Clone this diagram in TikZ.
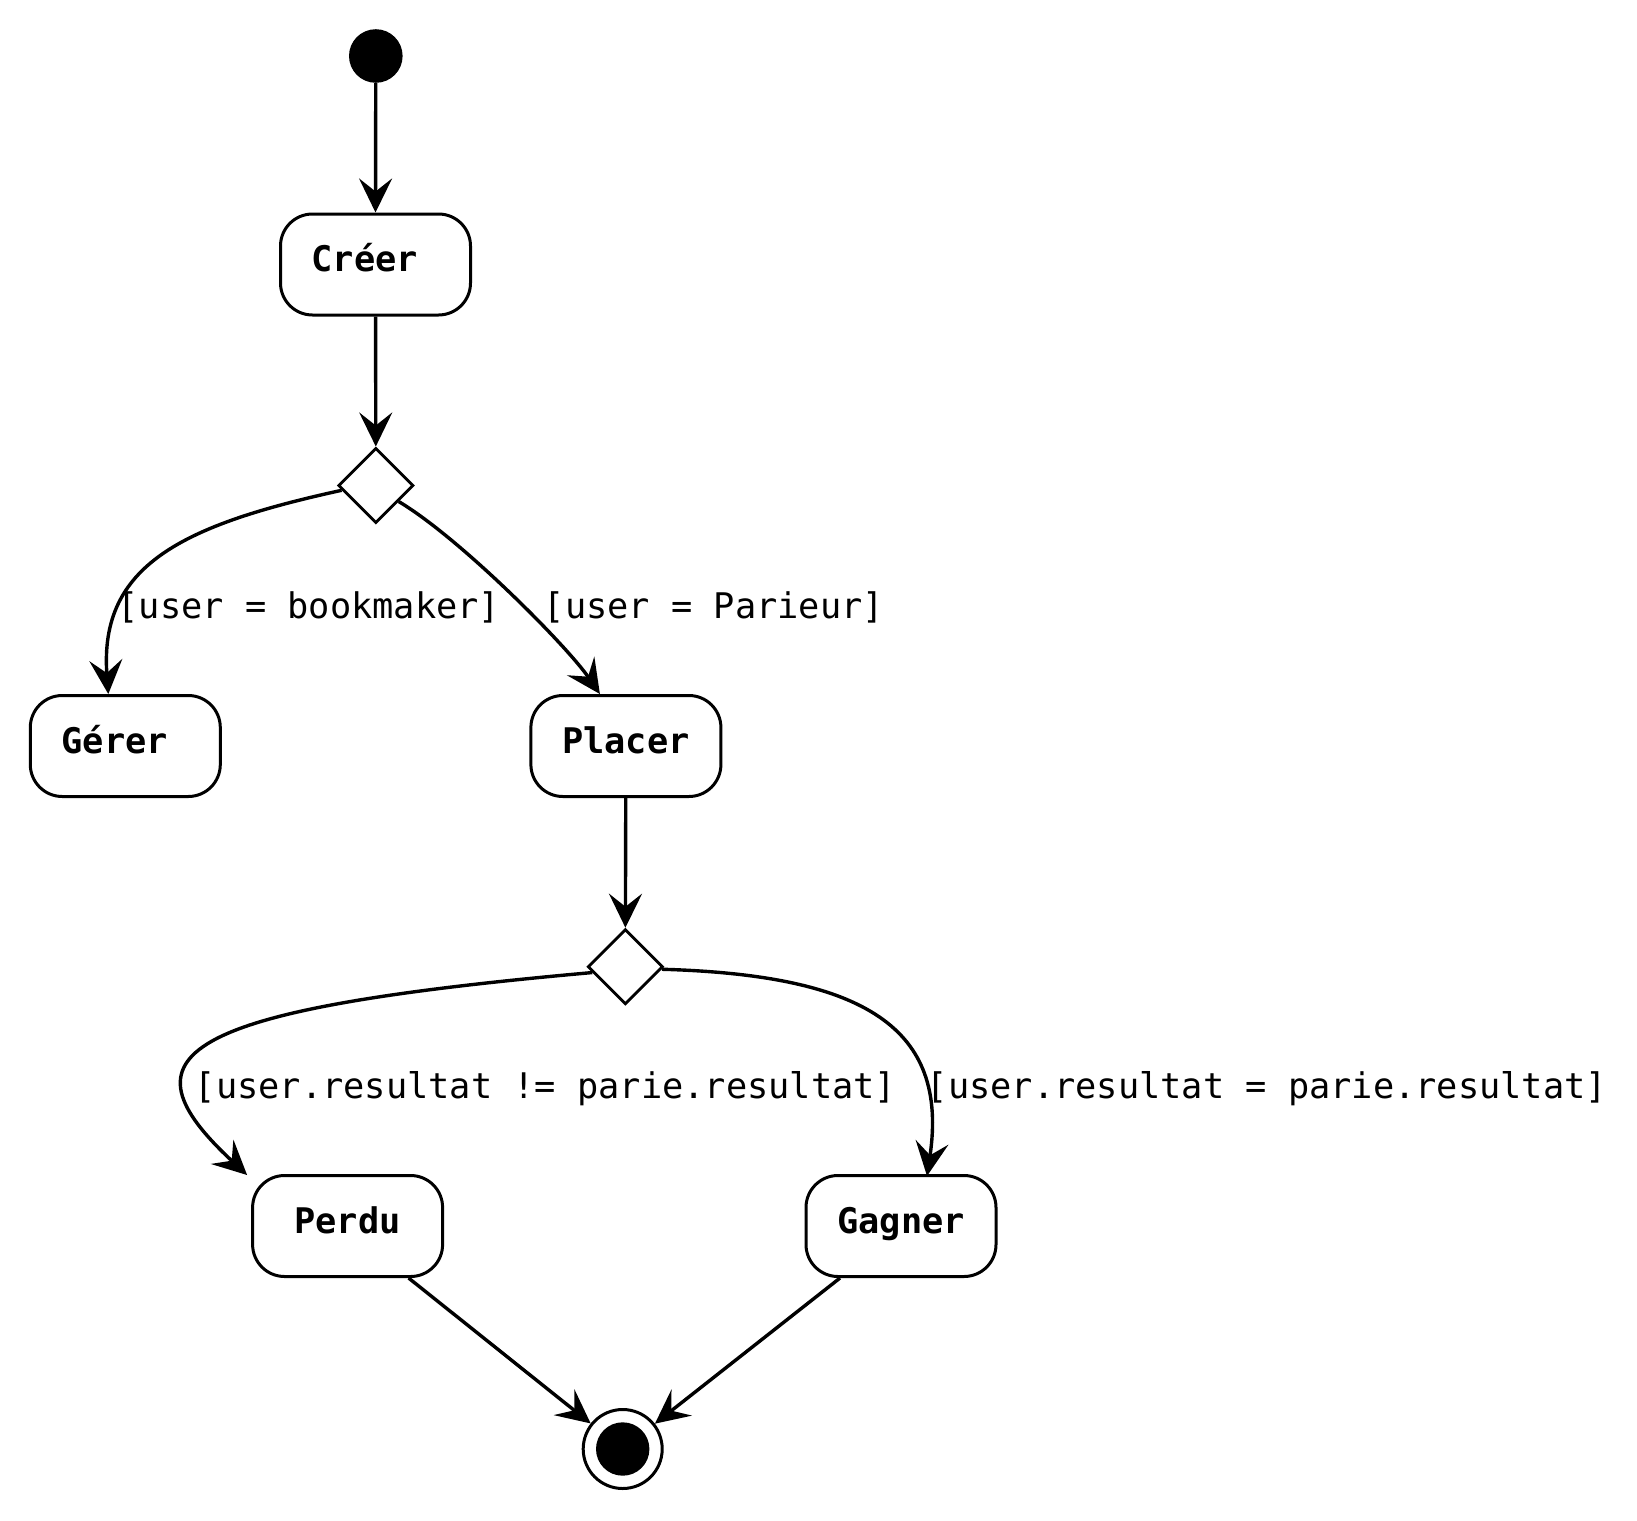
\documentclass[tikz,border=0pt]{standalone}
\usepackage{fontspec}
\setmonofont{DejaVu Sans Mono}
\usetikzlibrary{arrows.meta,shapes.geometric,calc}
\begin{document}
\begin{tikzpicture}[x=0.5pt,y=-0.5pt,
  >={Stealth[length=17pt,width=16.5pt,inset=6.5pt]},
  act/.style={draw,line width=1.5pt,rounded corners=16pt,minimum width=95pt,minimum height=50.5pt,inner sep=0pt,text height=10pt,text depth=3pt,font=\fontsize{17.65}{20}\selectfont\ttfamily\bfseries},
  dec/.style={draw,line width=1.4pt,diamond,aspect=1,minimum width=37.6pt,minimum height=37.6pt,inner sep=0pt},
  flow/.style={->,line width=1.7pt},
  guard/.style={anchor=base,inner sep=0pt,font=\fontsize{17.65}{20}\selectfont\ttfamily}]
\path[use as bounding box] (0,0) rectangle (1637,1520);
\node[circle,fill=black,minimum size=26.8pt,inner sep=0pt] (init) at (375.8,56) {};
\node[act] (creer) at (375.5,264.5) {Créer\hphantom{x}};
\node[dec] (d1) at (375.8,485.5) {};
\node[act] (gerer) at (125.3,746) {Gérer\hphantom{x}};
\node[act] (placer) at (625.9,746) {Placer};
\node[dec] (d2) at (625.4,966.7) {};
\node[act] (perdu) at (347.6,1226) {Perdu};
\node[act] (gagner) at (901,1226) {Gagner};
\node[circle,draw,line width=1.5pt,minimum size=39.5pt,inner sep=0pt] (fin) at (622.7,1449) {};
\node[circle,fill=black,minimum size=26.7pt,inner sep=0pt] (finin) at (fin.center) {};

\draw[flow] (init) -- (creer.north);
\draw[flow] (creer) -- (d1.north);
\draw[flow] (d1.188) .. controls (183,525) and (99,565) .. ($(gerer.north)+(-17,0)$);
\draw[flow] (d1.-35) .. controls (460,538) and (567,646) .. ($(placer.north)+(-26,0)$);
\draw[flow] (placer) -- (d2.north);
\draw[flow] (d2.190) .. controls (172,1010) and (118,1055) .. ($(perdu.north west)+(-4,1)$);
\draw[flow] (d2.-4) .. controls (865,975) and (949,1028) .. ($(gagner.north)+(26,2)$);
\draw[flow] ($(perdu.south)+(61,0)$) -- (fin);
\draw[flow] ($(gagner.south)+(-61,0)$) -- (fin);

\node[guard] (g1) at (309,618.5) {[user = bookmaker]};
\node[guard] (g2) at (714,618.5) {[user = Parieur]};
\node[guard] (g3) at (545.5,1098.3) {[user.resultat != parie.resultat]};
\node[guard] (g4) at (1267,1098.3) {[user.resultat = parie.resultat]};
\end{tikzpicture}
\end{document}
